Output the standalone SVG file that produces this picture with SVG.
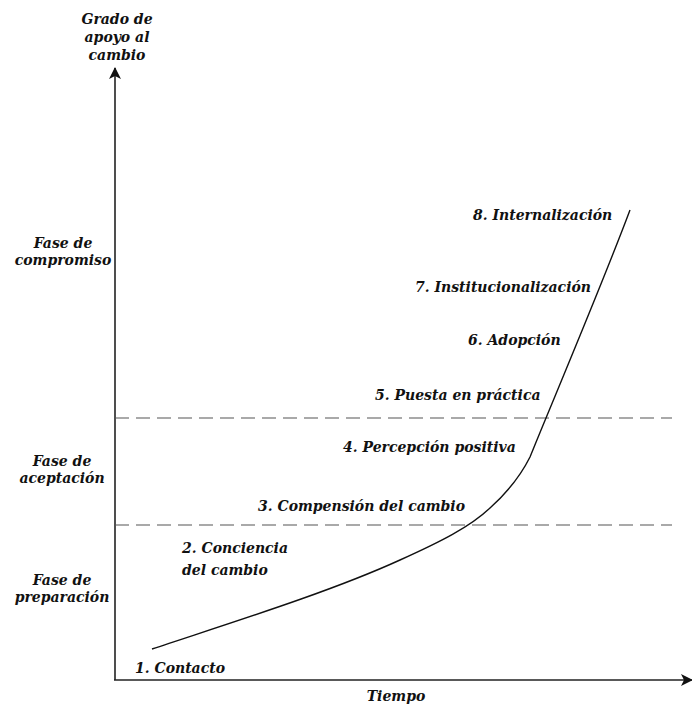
<svg xmlns="http://www.w3.org/2000/svg" width="692" height="713" viewBox="0 0 692 713">
  <style>
    .lbl { font-family: "DejaVu Serif", serif; font-weight: bold; font-style: italic; font-size: 14px; fill: #111; }
    .mid { text-anchor: middle; }
    .axis { stroke: #222; stroke-width: 1.6; fill: none; }
    .dash { stroke: #555; stroke-width: 1.1; stroke-dasharray: 14 7; fill: none; }
    .curve { stroke: #111; stroke-width: 1.4; fill: none; }
  </style>
  <defs>
    <marker id="arrow" viewBox="0 0 12 12" refX="11" refY="6" markerWidth="12" markerHeight="12" markerUnits="userSpaceOnUse" orient="auto">
      <path d="M0,0 L12,6 L0,12 L3,6 Z" fill="#111"/>
    </marker>
  </defs>
  <rect width="692" height="713" fill="#fff"/>

  <!-- axes -->
  <g id="axes">
    <line class="axis" x1="115" y1="680" x2="115" y2="68" marker-end="url(#arrow)"/>
    <line class="axis" x1="114" y1="680" x2="692" y2="680" marker-end="url(#arrow)"/>
    <text class="lbl mid" x="117" y="24">Grado de</text>
    <text class="lbl mid" x="117" y="42">apoyo al</text>
    <text class="lbl mid" x="117" y="60">cambio</text>
    <text class="lbl mid" x="396" y="701">Tiempo</text>
  </g>

  <!-- phase separators and support curve -->
  <g id="connectors">
    <line class="dash" x1="115" y1="418" x2="672" y2="418"/>
    <line class="dash" x1="115" y1="525" x2="672" y2="525"/>
    <path class="curve" d="M152,649 C230,623 330,592 400,560 C440,542 470,527 490,508 C510,490 522,473 530,457 C548,412 600,290 630,210"/>
  </g>

  <!-- phases -->
  <g id="fase-compromiso">
    <text class="lbl mid" x="63" y="248">Fase de</text>
    <text class="lbl mid" x="63" y="265">compromiso</text>
  </g>
  <g id="fase-aceptacion">
    <text class="lbl mid" x="62" y="466">Fase de</text>
    <text class="lbl mid" x="62" y="483">aceptación</text>
  </g>
  <g id="fase-preparacion">
    <text class="lbl mid" x="62" y="585">Fase de</text>
    <text class="lbl mid" x="62" y="602">preparación</text>
  </g>

  <!-- stages -->
  <g id="etapa-1"><text class="lbl" x="135" y="673">1. Contacto</text></g>
  <g id="etapa-2">
    <text class="lbl" x="182" y="553">2. Conciencia</text>
    <text class="lbl" x="182" y="575">del cambio</text>
  </g>
  <g id="etapa-3"><text class="lbl" x="258" y="511">3. Compensión del cambio</text></g>
  <g id="etapa-4"><text class="lbl" x="343" y="452">4. Percepción positiva</text></g>
  <g id="etapa-5"><text class="lbl" x="375" y="400">5. Puesta en práctica</text></g>
  <g id="etapa-6"><text class="lbl" x="468" y="345">6. Adopción</text></g>
  <g id="etapa-7"><text class="lbl" x="415" y="292">7. Institucionalización</text></g>
  <g id="etapa-8"><text class="lbl" x="473" y="220">8. Internalización</text></g>
</svg>
